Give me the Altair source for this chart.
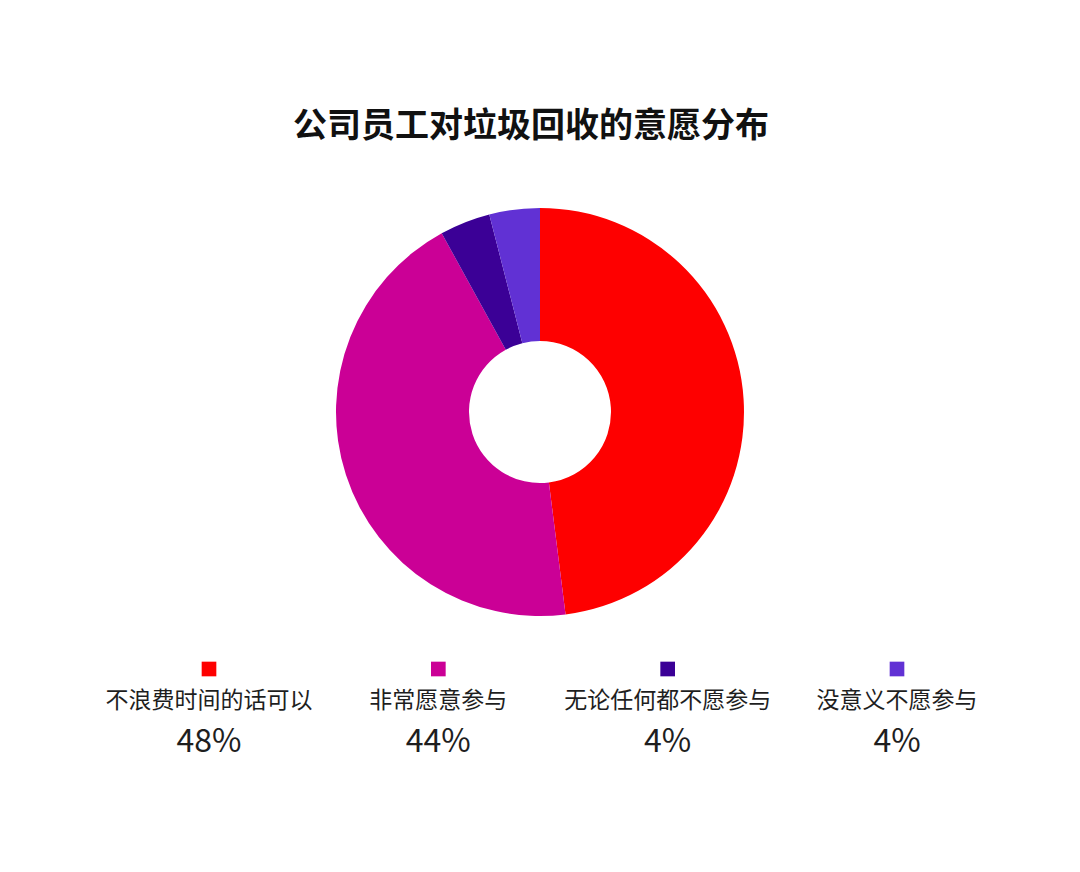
import altair as alt
import pandas as pd

categories = ["不浪费时间的话可以", "非常愿意参与", "无论任何都不愿参与", "没意义不愿参与"]
values = [48, 44, 4, 4]
pct_labels = ["48%", "44%", "4%", "4%"]
colors = ["#fe0000", "#cb0096", "#3b0096", "#6131d4"]
title_text = "公司员工对垃圾回收的意愿分布"

df = pd.DataFrame({
    "category": categories,
    "value": values,
    "pct": pct_labels,
    "order": list(range(len(categories))),
})

FONT = "Noto Sans CJK SC"
color_scale = alt.Scale(domain=categories, range=colors)

base = alt.Chart(df)

pie = base.mark_arc(radius=204, innerRadius=71, stroke=None).encode(
    theta=alt.Theta("value:Q", stack=True),
    order=alt.Order("order:Q"),
    color=alt.Color("category:N", scale=color_scale, legend=None),
    x=alt.value(532),
    y=alt.value(404),
)

xpos = alt.X("category:N", sort=categories, axis=None,
             scale=alt.Scale(type="point", range=[201, 889], padding=0))

squares = base.mark_square(size=215, opacity=1).encode(
    x=xpos,
    y=alt.value(661),
    color=alt.Color("category:N", scale=color_scale, legend=None),
)

labels = base.mark_text(font=FONT, fontSize=23, color="#1e1e1e", baseline="middle").encode(
    x=xpos,
    y=alt.value(693),
    text="category:N",
)

pcts = base.mark_text(font=FONT, fontSize=32, color="#1e1e1e", baseline="middle").encode(
    x=xpos,
    y=alt.value(734),
    text="pct:N",
)

title = alt.Chart(pd.DataFrame({"t": [title_text]})).mark_text(
    font=FONT, fontSize=34, fontWeight="bold", color="#111111", baseline="middle"
).encode(
    x=alt.value(523),
    y=alt.value(119),
    text="t:N",
)

chart = alt.layer(pie, squares, labels, pcts, title).properties(
    width=1064, height=856, padding=0, autosize=alt.AutoSizeParams(type="none")
).configure_view(stroke=None)

chart.save("out.html", embed_options={"renderer": "svg", "actions": False})
